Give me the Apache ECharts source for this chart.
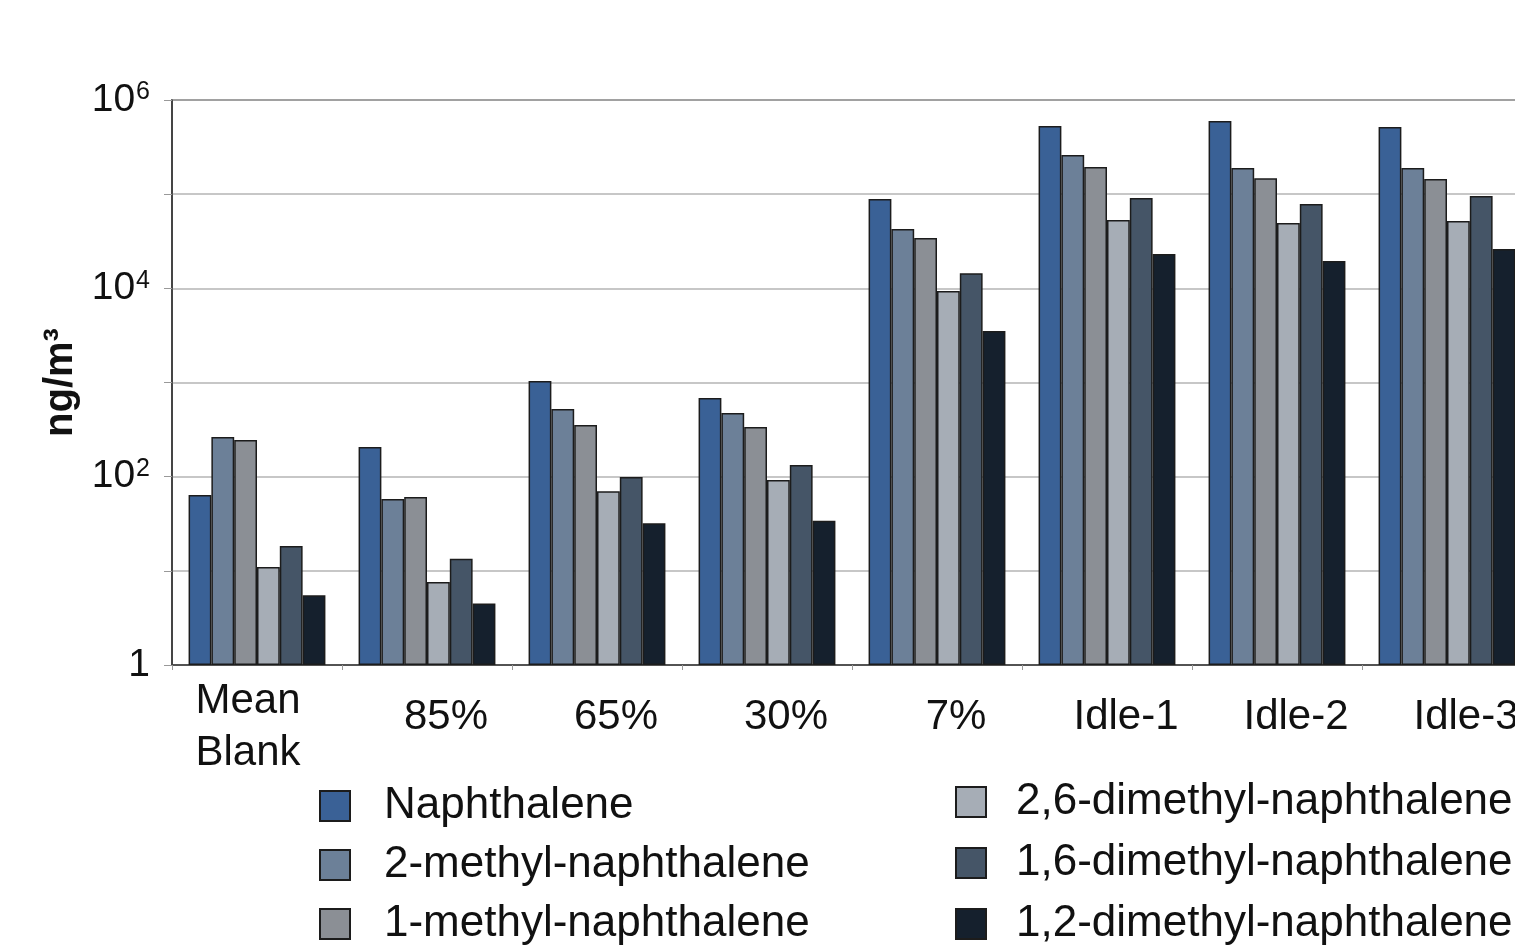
<!DOCTYPE html>
<html>
<head>
<meta charset="utf-8">
<script src="https://cdn.jsdelivr.net/npm/echarts@6/dist/echarts.min.js"></script>
<style>
  html, body { margin: 0; padding: 0; background: #fff; }
  #chart { width: 1515px; height: 946px; }
</style>
</head>
<body>
<div id="chart"></div>
<script>
// Engine load conditions (categories of the x axis)
const categories = ['Mean\nBlank', '85%', '65%', '30%', '7%', 'Idle-1', 'Idle-2', 'Idle-3'];

// Compound names
const compounds = [
  'Naphthalene',
  '2-methyl-naphthalene',
  '1-methyl-naphthalene',
  '2,6-dimethyl-naphthalene',
  '1,6-dimethyl-naphthalene',
  '1,2-dimethyl-naphthalene'
];

// Concentrations, ng/m3, one array per compound in category order
const naphthalene   = [64, 207, 1040, 685, 88800, 530000, 598000, 517000];
const methyl2       = [264, 58, 523, 474, 42700, 260000, 190000, 190000];
const methyl1       = [245, 61, 354, 337, 34200, 194000, 148000, 145000];
const dimethyl26    = [11, 7.6, 70, 92, 9370, 53200, 49400, 51900];
const dimethyl16    = [18.4, 13.4, 99, 133, 14500, 91000, 78600, 95500];
const dimethyl12    = [5.5, 4.5, 32, 34, 3520, 23100, 19500, 26100];

// Y tick labels (powers of ten), only every other decade is labelled
const yTickLabels = { 1: '1', 100: '10|2', 10000: '10|4', 1000000: '10|6' };

const seriesValues = [naphthalene, methyl2, methyl1, dimethyl26, dimethyl16, dimethyl12];
const colors = ['#3a6196', '#6c8098', '#8b8f95', '#a6adb6', '#455567', '#15202d'];

const FONT = '"Liberation Sans", Arial, sans-serif';

const chart = echarts.init(document.getElementById('chart'), null, { renderer: 'canvas' });

function legendText(gap) {
  return { fontFamily: FONT, fontSize: 44, color: '#111', padding: [0, 0, 0, gap] };
}

chart.setOption({
  animation: false,
  backgroundColor: '#fff',
  grid: {
    left: 172, top: 100, width: 1360, height: 565,
    show: true, borderColor: '#3a3a3a', borderWidth: 1.5,
    containLabel: false, outerBoundsMode: 'none'
  },
  legend: [
    {
      data: compounds.slice(0, 3),
      orient: 'vertical', left: 319, top: 784, height: 200, padding: 0,
      icon: 'rect', itemWidth: 30, itemHeight: 30, itemGap: 15,
      textStyle: legendText(29)
    },
    {
      data: compounds.slice(3),
      orient: 'vertical', left: 955, top: 780, height: 200, padding: 0,
      icon: 'rect', itemWidth: 30, itemHeight: 30, itemGap: 17,
      textStyle: legendText(25)
    }
  ],
  xAxis: {
    type: 'category',
    data: categories,
    axisLine: { lineStyle: { color: '#3a3a3a', width: 1.5 } },
    axisTick: { show: true, length: 5, lineStyle: { color: '#999' } },
    axisLabel: {
      margin: 10,
      interval: 0,
      formatter: function (v) {
        return v.indexOf('\n') >= 0
          ? v.split('\n').map(s => '{a|' + s + '}').join('\n')
          : '{b|' + v + '}';
      },
      rich: {
        a: { fontFamily: FONT, fontSize: 42, color: '#111', lineHeight: 52, padding: [0, 18, 0, 0] },
        b: { fontFamily: FONT, fontSize: 42, color: '#111', lineHeight: 84, padding: [0, 0, 0, 38] }
      }
    }
  },
  yAxis: {
    type: 'log',
    logBase: 10,
    min: 1,
    max: 1000000,
    name: 'ng/m³',
    nameLocation: 'middle',
    nameRotate: 90,
    nameGap: 90,
    nameTextStyle: { fontFamily: FONT, fontSize: 40, fontWeight: 'bold', color: '#111' },
    axisLine: { show: true, lineStyle: { color: '#3a3a3a', width: 1.5 } },
    axisTick: { show: true, length: 8, lineStyle: { color: '#999' } },
    splitLine: { show: true, lineStyle: { color: '#b4b4b4', width: 1.5 } },
    axisLabel: {
      margin: 22,
      formatter: function (v) {
        const key = Math.round(v);
        const t = yTickLabels[key];
        if (!t) return '';
        const parts = t.split('|');
        return parts.length > 1 ? '{n|' + parts[0] + '}{s|' + parts[1] + '}' : '{n|' + parts[0] + '}';
      },
      rich: {
        n: { fontFamily: FONT, fontSize: 39, color: '#111', lineHeight: 40 },
        s: { fontFamily: FONT, fontSize: 25, color: '#111', verticalAlign: 'top', lineHeight: 40, padding: [0, 0, 14, 1] }
      }
    }
  },
  series: seriesValues.map((vals, i) => ({
    name: compounds[i],
    type: 'bar',
    data: vals,
    barGap: '0%',
    barCategoryGap: '19.5%',
    itemStyle: { color: colors[i], borderColor: '#1c1c1c', borderWidth: 1.5 }
  }))
});
</script>
</body>
</html>
